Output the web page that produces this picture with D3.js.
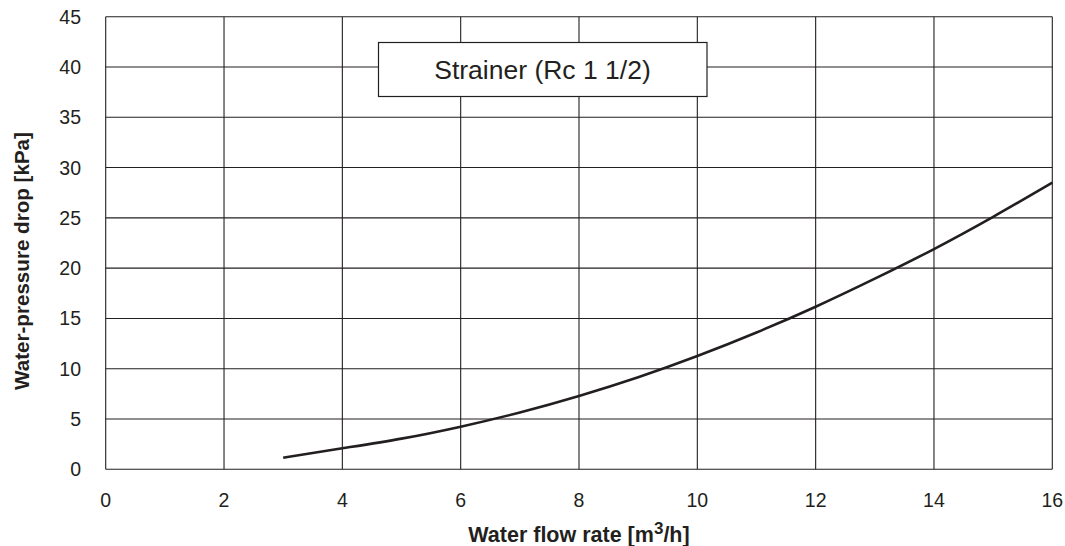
<!DOCTYPE html>
<html><head><meta charset="utf-8">
<script src="https://cdn.jsdelivr.net/npm/d3@7"></script>
<style>html,body{margin:0;padding:0;background:#fff;}svg{display:block;font-family:"Liberation Sans",Arial,sans-serif;}</style>
</head><body><svg id="c" width="1065" height="546"></svg>
<script>
const flowRate = [3, 4, 5, 6, 7, 8, 9, 10, 11, 12, 13, 14, 15, 16];
const pressureDrop = [1.15, 2.09, 3.05, 4.24, 5.65, 7.29, 9.15, 11.26, 13.6, 16.16, 18.95, 21.9, 25.1, 28.5];
const xTicks = [0, 2, 4, 6, 8, 10, 12, 14, 16];
const yTicks = [0, 5, 10, 15, 20, 25, 30, 35, 40, 45];
const boxLabel = "Strainer (Rc 1 1/2)";
const yTitle = "Water-pressure drop [kPa]";

const svg = d3.select("#c");
const ink = "#231f20";
const x = d3.scaleLinear().domain([0, 16]).range([105.7, 1052.3]);
const y = d3.scaleLinear().domain([0, 45]).range([469.3, 16.7]);

// grid
svg.append("g").selectAll("line").data(xTicks).join("line")
  .attr("x1", d => x(d)).attr("x2", d => x(d)).attr("y1", y(0)).attr("y2", y(45))
  .attr("stroke", ink).attr("stroke-width", 1.1);
svg.append("g").selectAll("line").data(yTicks).join("line")
  .attr("y1", d => y(d)).attr("y2", d => y(d)).attr("x1", x(0)).attr("x2", x(16))
  .attr("stroke", ink).attr("stroke-width", 1.1);

// tick labels
svg.append("g").selectAll("text").data(xTicks).join("text")
  .attr("x", d => x(d)).attr("y", 507).attr("text-anchor", "middle")
  .attr("font-size", 19.5).attr("fill", ink).text(d => d);
svg.append("g").selectAll("text").data(yTicks).join("text")
  .attr("x", 81).attr("y", d => y(d) + 7).attr("text-anchor", "end")
  .attr("font-size", 19.5).attr("fill", ink).text(d => d);

// curve
const line = d3.line().x((d, i) => x(flowRate[i])).y(d => y(d)).curve(d3.curveNatural);
svg.append("path").datum(pressureDrop).attr("d", line)
  .attr("fill", "none").attr("stroke", ink).attr("stroke-width", 2.6);

// label box
svg.append("rect").attr("x", 378.5).attr("y", 42.5).attr("width", 328.5).attr("height", 54)
  .attr("fill", "#fff").attr("stroke", ink).attr("stroke-width", 1.2);
svg.append("text").attr("x", 542.5).attr("y", 79).attr("text-anchor", "middle")
  .attr("font-size", 26.5).attr("fill", ink).text(boxLabel);

// axis titles
const xt = svg.append("text").attr("x", 579).attr("y", 542).attr("text-anchor", "middle")
  .attr("font-size", 21.5).attr("font-weight", "bold").attr("fill", ink);
xt.append("tspan").text("Water flow rate [m");
xt.append("tspan").attr("dy", -8).attr("font-size", 17).text("3");
xt.append("tspan").attr("dy", 8).text("/h]");

svg.append("text").attr("transform", "translate(29,261) rotate(-90)").attr("text-anchor", "middle")
  .attr("font-size", 20.6).attr("font-weight", "bold").attr("fill", ink).text(yTitle);
</script></body></html>
